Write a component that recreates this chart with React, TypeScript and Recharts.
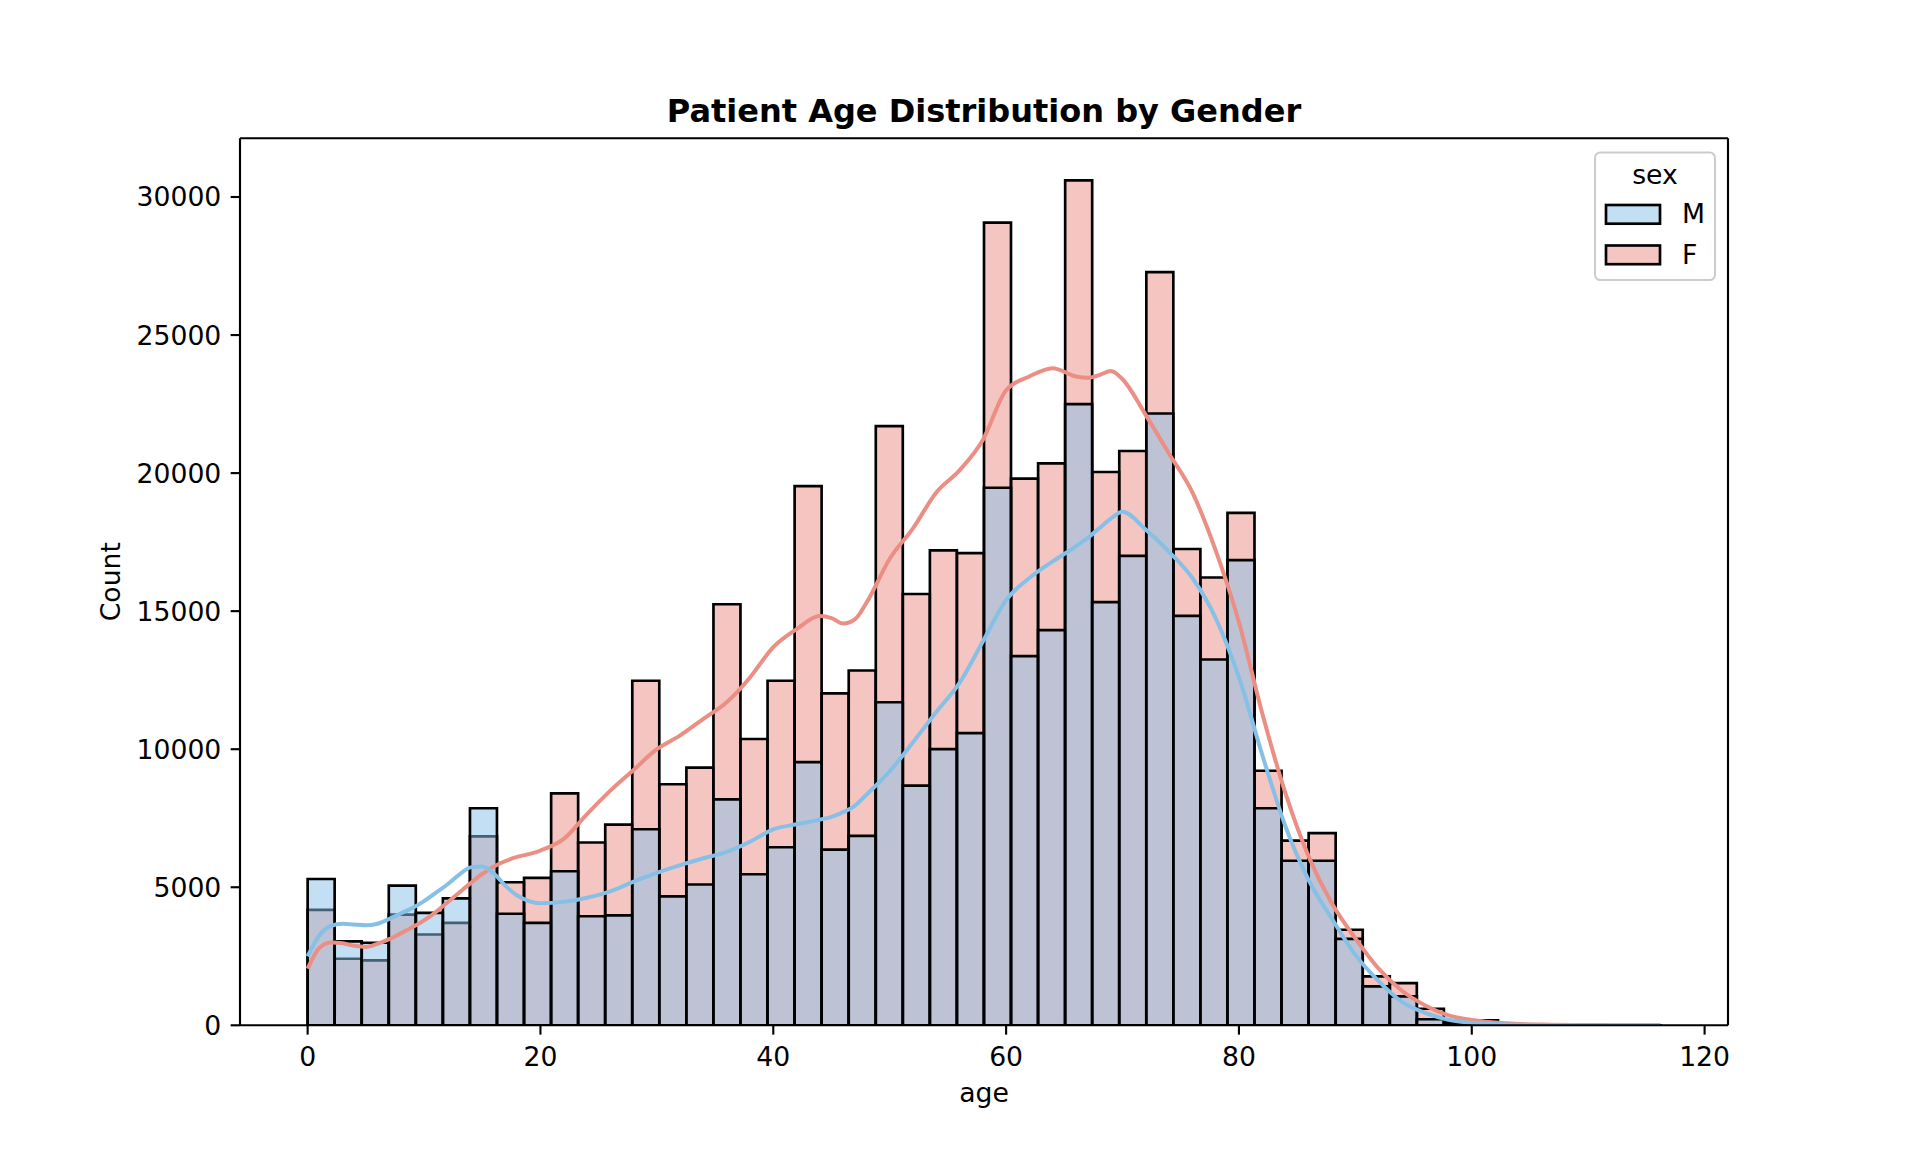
import { ComposedChart, Bar, Line, XAxis, YAxis } from "recharts";

// histogram: 50 bins from age 0 to ~116.2
const binWidth = 2.324;

const maleCounts = [
  5300, 3040, 2990, 5060, 4070, 4600, 7860, 4040, 3710, 5580,
  3950, 3980, 7100, 4670, 5100, 8180, 5470, 6450, 9530, 6360,
  6860, 11700, 8680, 10000, 10580, 19470, 13370, 14310, 22500, 15330,
  17000, 22160, 14830, 13250, 16850, 7860, 5960, 5960, 3130, 1410,
  1050, 220, 80, 60, 20, 10, 6, 4, 2, 2,
];

const femaleCounts = [
  4180, 2410, 2350, 4010, 3290, 3710, 6840, 5180, 5340, 8400,
  6620, 7270, 12480, 8730, 9330, 15250, 10370, 12480, 19530, 12020,
  12850, 21700, 15620, 17200, 17100, 29070, 19800, 20350, 30600, 20040,
  20800, 27280, 17250, 16220, 18560, 9220, 6690, 6960, 3460, 1770,
  1530, 600, 160, 180, 30, 15, 8, 5, 3, 2,
];

// kde curves (scaled to counts per bin)
const kdeAges = [
  0, 1, 2, 3, 4, 5, 6, 7, 8, 9, 10, 11, 12, 13, 14, 15, 16, 17, 18, 19,
  20, 22, 24, 26, 28, 30, 32, 34, 36, 38, 40, 42, 44, 45, 46, 47, 48, 50,
  52, 54, 56, 58, 60, 62, 64, 66, 67, 68, 69, 70, 72, 74, 76, 78, 80, 82,
  84, 86, 88, 90, 92, 94, 96, 98, 100, 103, 106, 110, 116.2,
];

const maleKde = [
  2500, 3250, 3600, 3680, 3650, 3620, 3680, 3850, 4050, 4250, 4500, 4800, 5100, 5450, 5720, 5750, 5500, 5050, 4700, 4500,
  4420, 4470, 4620, 4850, 5200, 5520, 5800, 6050, 6280, 6650, 7100, 7280, 7450, 7550, 7720, 7950, 8350, 9200,
  10250, 11350, 12400, 13900, 15400, 16200, 16800, 17350, 17650, 18000, 18350, 18600, 17950, 17150, 16200, 14750, 12600, 9800,
  7200, 5250, 3850, 2550, 1600, 850, 450, 200, 90, 30, 10, 3, 0,
];

const femaleKde = [
  2050, 2800, 3000, 2970, 2880, 2840, 2950, 3120, 3330, 3550, 3800, 4100, 4450, 4800, 5150, 5480, 5750, 5950, 6100, 6200,
  6330, 6750, 7650, 8500, 9250, 10000, 10500, 11100, 11700, 12600, 13700, 14350, 14820, 14750, 14550, 14700, 15300, 16900,
  18000, 19300, 20100, 21200, 23000, 23500, 23800, 23500, 23450, 23550, 23700, 23400, 22100, 20700, 19300, 17200, 14600, 11300,
  8400, 6100, 4400, 3150, 2050, 1250, 720, 360, 190, 70, 25, 6, 0,
];

const xTicks = [0, 20, 40, 60, 80, 100, 120];
const yTicks = [0, 5000, 10000, 15000, 20000, 25000, 30000];

const bins = maleCounts.map((m, i) => ({
  age: (i + 0.5) * binWidth,
  M: m,
  F: femaleCounts[i],
}));

const kdeData = kdeAges.map((a, i) => ({ age: a, M: maleKde[i], F: femaleKde[i] }));

const xDomain = [-5.81, 122.01];
const yDomain = [0, 32130];

const maleColor = "#86C0E7";
const femaleColor = "#EB8E84";
const font = "DejaVu Sans";
const tickStyle = { fill: "#000", fontSize: 26.67, fontFamily: font };
const spine = { stroke: "#000", strokeWidth: 2.13 };

export default function App() {
  return (
    <div
      style={{
        position: "absolute",
        left: 0,
        top: 0,
        width: 1920,
        height: 1152,
        background: "#fff",
        fontFamily: font,
      }}
    >
      <ComposedChart
        width={1920}
        height={1152}
        data={bins}
        barCategoryGap={0}
        barGap={0}
        margin={{ top: 137.2, right: 191, bottom: 66.7, left: 140 }}
      >
        <XAxis
          xAxisId="female"
          type="number"
          dataKey="age"
          domain={xDomain}
          allowDataOverflow
          ticks={xTicks}
          height={60}
          tickSize={9.33}
          tickMargin={12.5}
          tick={tickStyle}
          tickLine={spine}
          axisLine={spine}
        />
        <XAxis xAxisId="male" type="number" dataKey="age" domain={xDomain} allowDataOverflow hide />
        <XAxis xAxisId="kde" type="number" dataKey="age" domain={xDomain} allowDataOverflow hide />
        <XAxis
          xAxisId="top"
          orientation="top"
          type="number"
          domain={xDomain}
          allowDataOverflow
          height={1}
          tick={false}
          tickLine={false}
          axisLine={spine}
        />
        <YAxis
          type="number"
          domain={yDomain}
          allowDataOverflow
          ticks={yTicks}
          width={100}
          tickSize={9.33}
          tickMargin={9.33}
          tick={tickStyle}
          tickLine={spine}
          axisLine={spine}
        />
        <YAxis
          yAxisId="right"
          orientation="right"
          type="number"
          domain={yDomain}
          allowDataOverflow
          width={1}
          tick={false}
          tickLine={false}
          axisLine={spine}
        />

        <Bar
          xAxisId="female"
          dataKey="F"
          fill={femaleColor}
          fillOpacity={0.5}
          stroke="#000"
          strokeWidth={2.67}
          isAnimationActive={false}
        />
        <Bar
          xAxisId="male"
          dataKey="M"
          fill={maleColor}
          fillOpacity={0.5}
          stroke="#000"
          strokeWidth={2.67}
          isAnimationActive={false}
        />
        <Line
          xAxisId="kde"
          data={kdeData}
          dataKey="F"
          type="monotone"
          stroke={femaleColor}
          strokeWidth={4}
          dot={false}
          activeDot={false}
          isAnimationActive={false}
        />
        <Line
          xAxisId="kde"
          data={kdeData}
          dataKey="M"
          type="monotone"
          stroke={maleColor}
          strokeWidth={4}
          dot={false}
          activeDot={false}
          isAnimationActive={false}
        />
      </ComposedChart>

      {/* title, axis labels and legend */}
      <svg
        width={1920}
        height={1152}
        style={{ position: "absolute", left: 0, top: 0, pointerEvents: "none" }}
        fontFamily={font}
      >
        <text x={984} y={122} textAnchor="middle" fontSize={32} fontWeight="bold" fill="#000">
          Patient Age Distribution by Gender
        </text>
        <text x={984} y={1102} textAnchor="middle" fontSize={26.67} fill="#000">
          age
        </text>
        <text
          x={0}
          y={0}
          transform="translate(119.7 581.7) rotate(-90)"
          textAnchor="middle"
          fontSize={26.67}
          fill="#000"
        >
          Count
        </text>

        <rect x={1595} y={152.5} width={120} height={127.5} rx={5.3} fill="#fff" fillOpacity={0.8} stroke="#cccccc" strokeWidth={2} />
        <text x={1655} y={184} textAnchor="middle" fontSize={26.67} fill="#000">
          sex
        </text>
        <rect x={1606} y={205} width={54} height={18.7} fill={maleColor} fillOpacity={0.5} stroke="#000" strokeWidth={2.67} />
        <text x={1682} y={223} fontSize={26.67} fill="#000">
          M
        </text>
        <rect x={1606} y={245.5} width={54} height={18.7} fill={femaleColor} fillOpacity={0.5} stroke="#000" strokeWidth={2.67} />
        <text x={1682} y={264} fontSize={26.67} fill="#000">
          F
        </text>
      </svg>
    </div>
  );
}
